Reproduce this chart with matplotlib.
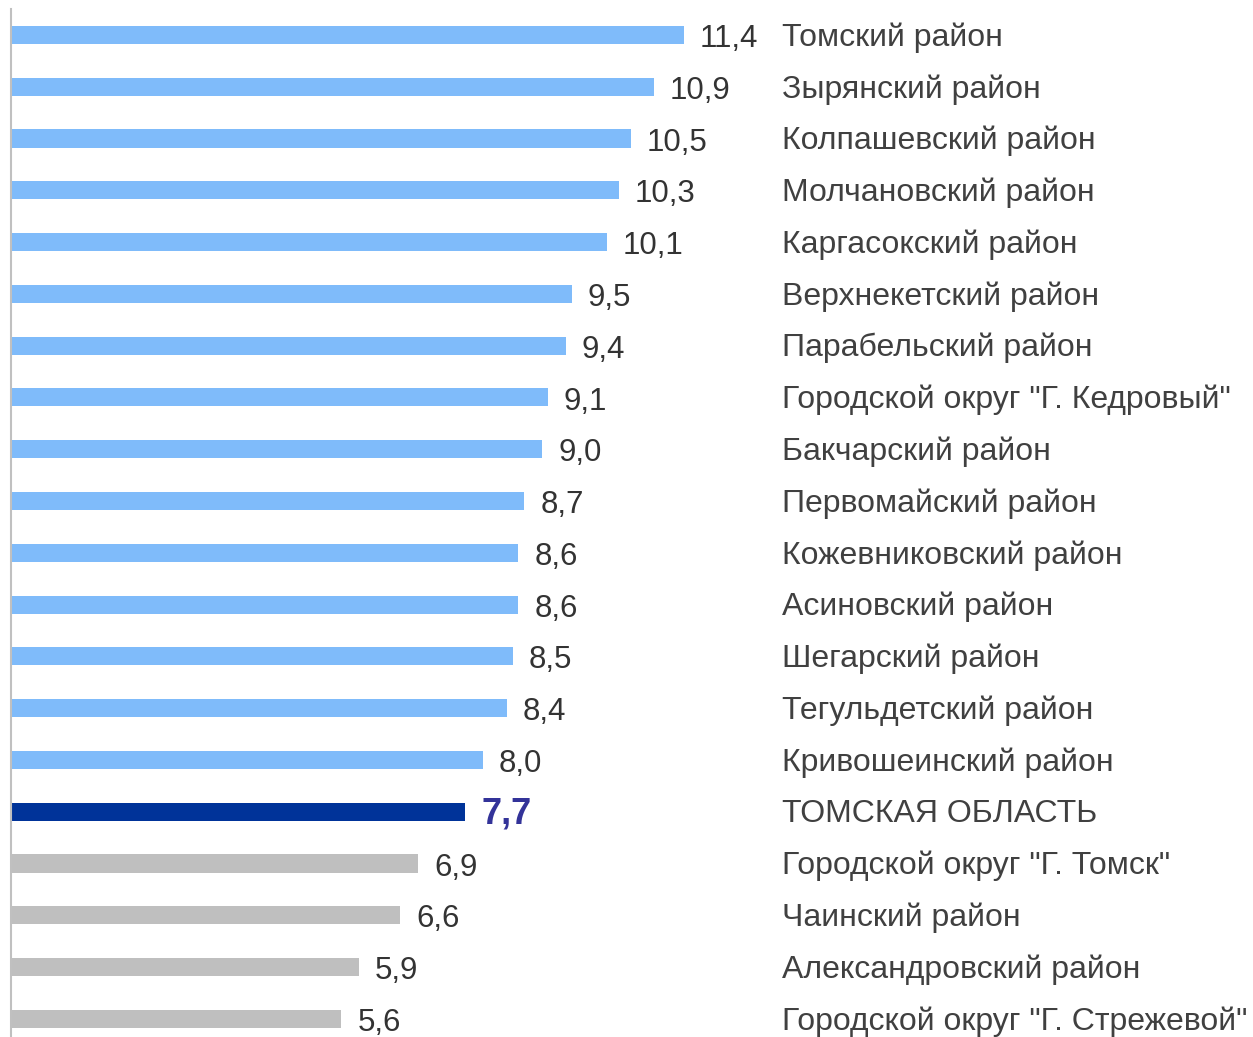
import matplotlib.pyplot as plt
import matplotlib.transforms as mtransforms

regions = ['Томский район', 'Зырянский район', 'Колпашевский район', 'Молчановский район',
           'Каргасокский район', 'Верхнекетский район', 'Парабельский район',
           'Городской округ "Г. Кедровый"', 'Бакчарский район', 'Первомайский район',
           'Кожевниковский район', 'Асиновский район', 'Шегарский район',
           'Тегульдетский район', 'Кривошеинский район', 'ТОМСКАЯ ОБЛАСТЬ',
           'Городской округ "Г. Томск"', 'Чаинский район', 'Александровский район',
           'Городской округ "Г. Стрежевой"']
values = [11.4, 10.9, 10.5, 10.3, 10.1, 9.5, 9.4, 9.1, 9.0, 8.7,
          8.6, 8.6, 8.5, 8.4, 8.0, 7.7, 6.9, 6.6, 5.9, 5.6]
total_name = 'ТОМСКАЯ ОБЛАСТЬ'

plt.rcParams['font.family'] = ['Liberation Sans', 'DejaVu Sans']

W, H = 1253, 1037
fig = plt.figure(figsize=(W / 100, H / 100), dpi=100)
ax = fig.add_axes([11 / W, 0, 1 - 11 / W, 1 - 9 / H])

idx = list(range(len(regions)))
total_i = regions.index(total_name)
colors = []
for i in idx:
    if i < total_i:
        colors.append('#7fbbfa')
    elif i == total_i:
        colors.append('#003399')
    else:
        colors.append('#bfbfbf')

ax.barh(idx, values, height=0.35, color=colors)

px_per_unit = 59.0
ax.set_xlim(0, (W - 11) / px_per_unit)
ax.set_ylim(19.35, -0.5)

for s in ['top', 'right', 'bottom']:
    ax.spines[s].set_visible(False)
ax.spines['left'].set_color('#c0c0c0')
ax.spines['left'].set_linewidth(1.5)
ax.set_xticks([])
ax.set_yticks([])

off = 16 / px_per_unit
tr = mtransforms.blended_transform_factory(fig.transFigure, ax.transData)
for i, (name, v) in enumerate(zip(regions, values)):
    if i == total_i:
        ax.text(v + off, i + 0.04, f'{v:.1f}'.replace('.', ','), va='center', ha='left',
                fontsize=26, fontweight='bold', color='#333399')
    else:
        ax.text(v + off, i + 0.08, f'{v:.1f}'.replace('.', ','), va='center', ha='left',
                fontsize=22.5, color='#333333')
    ax.text(782 / W, i + 0.05, name, transform=tr, va='center', ha='left',
            fontsize=23, color='#404040')

fig.savefig('out.png', dpi=100)
